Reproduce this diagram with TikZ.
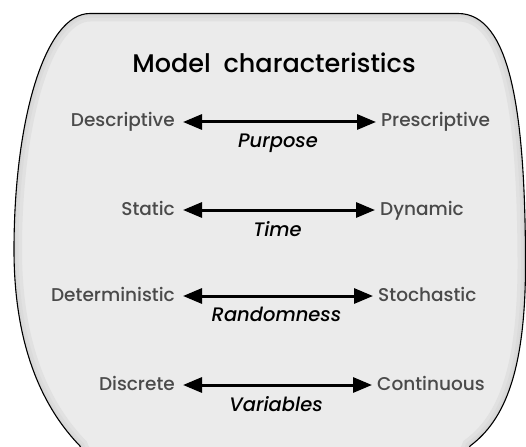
\documentclass[tikz,border=0pt]{standalone}
\usepackage{fontspec}
\setmainfont{Poppins}[UprightFont=* Medium, ItalicFont=* Medium Italic]
\usetikzlibrary{arrows.meta}

\definecolor{panelfill}{HTML}{EBEBEB}
\definecolor{paneledge}{HTML}{D6D6D6}
\definecolor{labelgray}{HTML}{4A4A4A}

\tikzset{
  pole/.style={inner sep=0pt, text=labelgray, font=\fontsize{18.5}{22}\selectfont,
               text height=14pt, text depth=4pt},
  axis/.style={inner sep=0pt, font=\fontsize{19.5}{24}\selectfont\itshape, text=black},
  twoway/.style={line width=3pt, {Triangle[length=19pt,width=15pt]}-{Triangle[length=19pt,width=15pt]},
                 shorten <=8pt, shorten >=5pt},
  title/.style={inner sep=0pt, font=\fontsize{25.5}{30}\selectfont}
}

\begin{document}
\begin{tikzpicture}[x=1pt,y=-1pt]
  \useasboundingbox (0,0) rectangle (526,446);
  \clip (0,0) rectangle (526,446);

  % outline of the panel
  \def\panelpath{
    (90,13.5) -- (458,13.5)
    .. controls (510,13.5) and (525,110) .. (525.5,260)
    .. controls (526,370) and (505,420) .. (470,446)
    -- (460,470) -- (90,470) -- (80,446)
    .. controls (45,410) and (14,350) .. (14,250)
    .. controls (14,120) and (45,13.5) .. (90,13.5) -- cycle}

  \fill[panelfill] \panelpath;
  \begin{scope}
    \clip \panelpath;
    \draw[paneledge!45!panelfill, line width=16pt] \panelpath;
    \draw[paneledge!75!panelfill, line width=9pt] \panelpath;
    \draw[paneledge, line width=4pt] \panelpath;
  \end{scope}
  \draw[black, line width=1.1pt] \panelpath;

  % heading
  \node[title] (head) at (274,63) {Model\hspace{0.5em}characteristics};

  % the four scales
  \node[pole, anchor=east] (l1) at (175,122) {Descriptive};
  \node[pole, anchor=west] (r1) at (381,122) {Prescriptive};
  \draw[twoway] (l1.east) -- (r1.west) node[axis, midway, below=10pt] (a1) {Purpose};

  \node[pole, anchor=east] (l2) at (175,210) {Static};
  \node[pole, anchor=west] (r2) at (380,210) {Dynamic};
  \draw[twoway] (l2.east) -- (r2.west) node[axis, midway, below=10pt] (a2) {Time};

  \node[pole, anchor=east] (l3) at (175,296) {Deterministic};
  \node[pole, anchor=west] (r3) at (378,296) {Stochastic};
  \draw[twoway] (l3.east) -- (r3.west) node[axis, midway, below=10pt] (a3) {Randomness};

  \node[pole, anchor=east] (l4) at (175,385) {Discrete};
  \node[pole, anchor=west] (r4) at (377,385) {Continuous};
  \draw[twoway] (l4.east) -- (r4.west) node[axis, midway, below=10pt] (a4) {Variables};
\end{tikzpicture}
\end{document}
